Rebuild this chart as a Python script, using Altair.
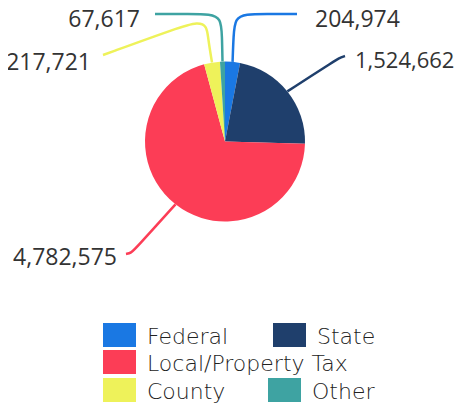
import math
import altair as alt
import pandas as pd

# ---- data ----
categories = ["Federal", "State", "Local/Property Tax", "County", "Other"]
values = [204974, 1524662, 4782575, 217721, 67617]
value_labels = ["204,974", "1,524,662", "4,782,575", "217,721", "67,617"]
colors = ["#1a78e3", "#1f3f6c", "#fc3d56", "#eef25a", "#3ea3a2"]

# ---- layout (page pixel space, scales map page coords to view) ----
W, H = 451, 400
CX, CY, R = 225, 141.5, 80
xs = alt.Scale(domain=[8, 8 + W], nice=False, zero=False)
ys = alt.Scale(domain=[8, 8 + H], nice=False, zero=False, reverse=True)
cscale = alt.Scale(domain=categories, range=colors)

# leader line bend points after the rim start point
leader_bends = {
    "Other": [(222, 36), (221, 18), (210, 14), (190, 14), (155, 14)],
    "Federal": [(233.5, 36), (235, 18), (246, 14), (265, 14), (297, 14)],
    "County": [(208, 38), (207, 26), (198, 22), (180, 27), (103, 55)],
    "State": [(333, 62), (339, 58), (345, 56)],
    "Local/Property Tax": [(136, 248), (131, 253), (126, 254)],
}
label_pos = {
    "Federal": (315, 27, "left", 23),
    "State": (355, 68, "left", 22),
    "Local/Property Tax": (117, 265, "right", 23),
    "County": (91, 70, "right", 23),
    "Other": (140, 27, "right", 23),
}
legend_pos = {
    "Federal": (103, 323),
    "State": (273, 323),
    "Local/Property Tax": (103, 350),
    "County": (103, 378),
    "Other": (268, 378),
}

total = sum(values)
pie_df = pd.DataFrame({"cat": categories, "value": values, "order": range(len(categories))})

rows = []
cum = 0
for c, v in zip(categories, values):
    mid = (cum + v / 2) / total * 2 * math.pi
    cum += v
    sx, sy = CX + R * math.sin(mid), CY - R * math.cos(mid)
    pts = [(sx, sy)] + leader_bends[c]
    for i, (px, py) in enumerate(pts):
        rows.append({"cat": c, "seq": i, "x": px, "y": py})
line_df = pd.DataFrame(rows)

lab_df = pd.DataFrame([
    {"cat": c, "label": l, "x": label_pos[c][0], "y": label_pos[c][1],
     "align": label_pos[c][2], "fs": label_pos[c][3]}
    for c, l in zip(categories, value_labels)
])

leg_df = pd.DataFrame([
    {"cat": c, "x": legend_pos[c][0], "x2": legend_pos[c][0] + 33,
     "y": legend_pos[c][1], "y2": legend_pos[c][1] + 24,
     "tx": legend_pos[c][0] + 44, "ty": legend_pos[c][1] + 21}
    for c in categories
])

pie = alt.Chart(pie_df).mark_arc(outerRadius=R).encode(
    theta=alt.Theta("value:Q", stack=True),
    order=alt.Order("order:Q"),
    color=alt.Color("cat:N", scale=cscale, legend=None),
    x=alt.datum(CX, scale=xs, axis=None),
    y=alt.datum(CY, scale=ys, axis=None),
)

lines = alt.Chart(line_df).mark_line(interpolate="basis", strokeWidth=2.5).encode(
    x=alt.X("x:Q", scale=xs, axis=None),
    y=alt.Y("y:Q", scale=ys, axis=None),
    color=alt.Color("cat:N", scale=cscale, legend=None),
    detail="cat:N",
    order="seq:Q",
)

def label_layer(align):
    return alt.Chart(lab_df[lab_df["align"] == align]).mark_text(
        align=align, baseline="alphabetic", font="Open Sans", color="#333333"
    ).encode(
        x=alt.X("x:Q", scale=xs, axis=None),
        y=alt.Y("y:Q", scale=ys, axis=None),
        size=alt.Size("fs:Q", scale=None, legend=None),
        text="label:N",
    )

leg_rect = alt.Chart(leg_df).mark_rect().encode(
    x=alt.X("x:Q", scale=xs, axis=None),
    x2="x2:Q",
    y=alt.Y("y:Q", scale=ys, axis=None),
    y2="y2:Q",
    color=alt.Color("cat:N", scale=cscale, legend=None),
)
leg_text = alt.Chart(leg_df).mark_text(
    align="left", baseline="alphabetic", font="DejaVu Sans", fontSize=22, fontWeight=200, color="#222222"
).encode(
    x=alt.X("tx:Q", scale=xs, axis=None),
    y=alt.Y("ty:Q", scale=ys, axis=None),
    text="cat:N",
)

chart = alt.layer(lines, pie, label_layer("left"), label_layer("right"), leg_rect, leg_text).properties(
    width=W, height=H, padding=0, autosize=alt.AutoSizeParams(type="none")
).configure_view(stroke=None)

chart.save("out.html", embed_options={"renderer": "svg", "actions": False})
